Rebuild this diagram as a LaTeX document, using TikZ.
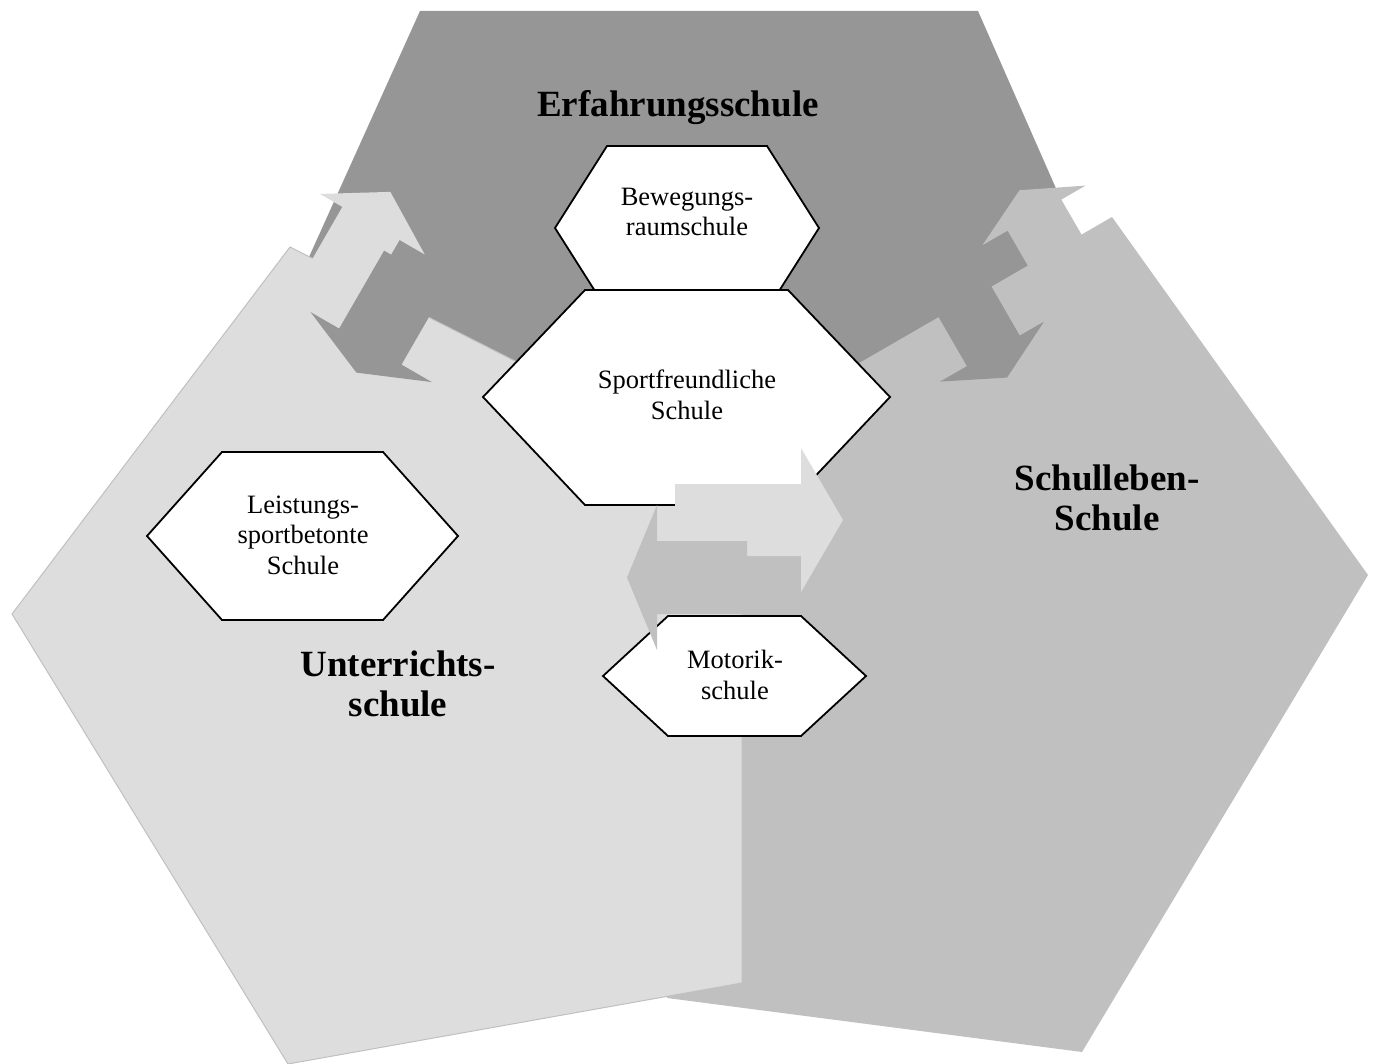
\documentclass[tikz,border=0pt]{standalone}
\usepackage{fontspec}
\setmainfont{Liberation Serif}
\definecolor{darkblock}{RGB}{150,150,150}
\definecolor{midblock}{RGB}{192,192,192}
\definecolor{lightblock}{RGB}{221,221,221}
\tikzset{
  hexbox/.style={draw=black,line width=1.8pt,fill=white},
  hexlabel/.style={align=center,font=\fontsize{26.5}{30.5}\selectfont},
  blocklabel/.style={align=center,font=\fontsize{37}{40}\selectfont\bfseries},
}

\begin{document}
\begin{tikzpicture}[x=1pt,y=-1pt]
\useasboundingbox (0,0) rectangle (1375,1064);

% the three large blocks
\fill[darkblock] (420,11) -- (978,11) -- (1149,400) -- (700,650) -- (249,390) -- cycle;
\fill[midblock] (1112,217) -- (1368,575) -- (1082,1052) -- (667,998) -- (700,455) -- cycle;
\filldraw[fill=lightblock,draw=midblock,line width=1pt] (290,247) -- (12,614) -- (288,1064) -- (742,983) -- (742,476) -- cycle;

% hexagons
\draw[hexbox] (555,228) -- (607,146) -- (767,146) -- (819,228) -- (767,310) -- (607,310) -- cycle;
\node[hexlabel] (beweg) at (687,212) {Bewegungs-\\raumschule};

\draw[hexbox] (483,397) -- (585,290) -- (788,290) -- (890,397) -- (788,505) -- (585,505) -- cycle;
\node[hexlabel] (sport) at (687,395) {Sportfreundliche\\Schule};

\draw[hexbox] (147,536) -- (222,452) -- (383,452) -- (458,536) -- (383,620) -- (222,620) -- cycle;
\node[hexlabel] (leist) at (303,535) {Leistungs-\\sportbetonte\\Schule};

\draw[hexbox] (603,676) -- (668,616) -- (801,616) -- (866,676) -- (801,736) -- (668,736) -- cycle;
\node[hexlabel] (motor) at (735,675) {Motorik-\\schule};

% arrows between Unterricht and Erfahrung
\begin{scope}[x={(0.5pt,0.866pt)},y={(0.866pt,-0.5pt)}]
\fill[lightblock] (-115,400) -- (-8,400) -- (-8,374) -- (29,434) -- (-8,495) -- (-8,466) -- (-115,466) -- cycle;
\fill[darkblock] (-25,458) -- (-25,530) -- (-115,530) -- (-115,565) -- (-144.5,495) -- (-115,425) -- (-115,458) -- cycle;
\end{scope}

% arrows between Schulleben and Erfahrung
\begin{scope}[shift={(1401pt,0pt)},x={(-0.5pt,0.866pt)},y={(-0.866pt,-0.5pt)}]
\fill[midblock] (-100,394) -- (-3,394) -- (-3,366) -- (26,425.5) -- (-3,485) -- (-3,456) -- (-100,456) -- cycle;
\fill[darkblock] (-43,498) -- (-43,559) -- (-100,559) -- (-100,590) -- (-130,530) -- (-100,470) -- (-100,498) -- cycle;
\end{scope}

% arrows between Unterricht and Schulleben
\fill[lightblock] (675,484) -- (801,484) -- (801,448) -- (843,520) -- (801,592) -- (801,556) -- (675,556) -- cycle;
\fill[midblock] (747,541) -- (747,614) -- (657,614) -- (657,650) -- (627,577.5) -- (657,505) -- (657,541) -- cycle;

\node[blocklabel] (erfahrung) at (678,108) {Erfahrungsschule};
\node[blocklabel] (schulleben) at (1107,498) {Schulleben-\\Schule};
\node[blocklabel] (unterricht) at (398,684) {Unterrichts-\\schule};

\end{tikzpicture}
\end{document}
